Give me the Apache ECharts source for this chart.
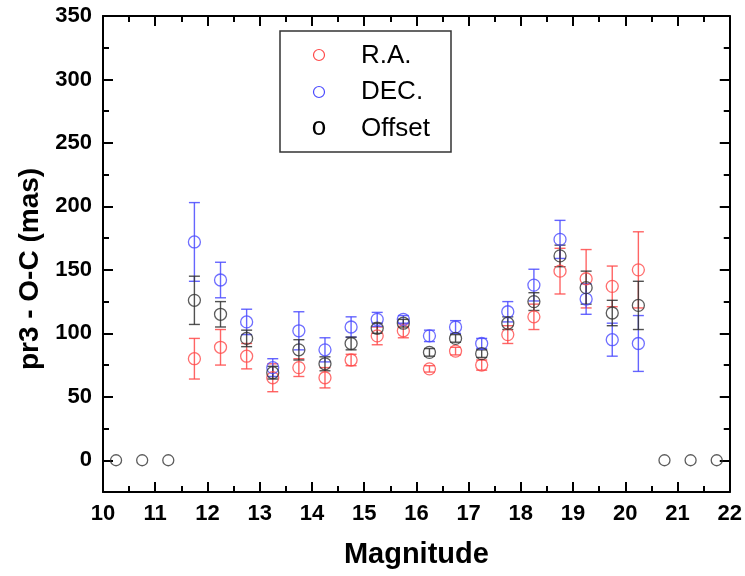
<!DOCTYPE html>
<html>
<head>
<meta charset="utf-8">
<script src="https://cdn.jsdelivr.net/npm/echarts@6/dist/echarts.min.js"></script>
<style>html,body{margin:0;padding:0;background:#fff}#c{width:745px;height:576px}</style>
</head>
<body>
<div id="c"></div>
<script>
// Data
const magnitudes = [11.75, 12.25, 12.75, 13.25, 13.75, 14.25, 14.75, 15.25, 15.75, 16.25, 16.75, 17.25, 17.75, 18.25, 18.75, 19.25, 19.75, 20.25];
const raValues   = [80, 89, 82, 65, 73, 65, 79, 98, 102, 72, 86, 75, 99, 113, 149, 143, 137, 150];
const raErrors   = [16, 14, 10, 11, 7, 8, 4.5, 7, 5.5, 2.5, 3, 4, 7, 10, 18, 23, 16, 30];
const decValues  = [172, 142, 109, 73, 102, 87, 105, 111, 111, 98, 105, 92, 117, 138, 174, 127, 95, 92];
const decErrors  = [31, 14, 10, 7, 15, 9.5, 8, 5.5, 3, 4.5, 5, 4, 8, 12.5, 15, 12, 13, 22];
const offValues  = [126, 115, 96, 69, 87, 76, 92, 104, 108, 85, 96, 84, 108, 125, 161, 136, 116, 122];
const offErrors  = [19, 10, 6.5, 5, 8, 5.5, 5, 4, 3, 3, 3, 3, 5, 7, 8.5, 13, 10, 19];
const zeroMagnitudes = [10.25, 10.75, 11.25, 20.75, 21.25, 21.75];
const zeroValues = [0, 0, 0, 0, 0, 0];
const xTicks = [10, 11, 12, 13, 14, 15, 16, 17, 18, 19, 20, 21, 22];
const yMajorTicks = [0, 50, 100, 150, 200, 250, 300, 350];

const RED = '#ff4a4a', BLUE = '#4a4aff', BLACK = '#333333';
const FONT = 'Liberation Sans, Arial, sans-serif';

function pts(xs, ys) { return xs.map((x, i) => [x, ys[i]]); }
function errData(xs, ys, es) { return xs.map((x, i) => [x, ys[i], es[i]]); }

function errSeries(name, data, color) {
  return {
    type: 'custom', name: name, data: data, z: 2,
    renderItem: function (params, api) {
      const x = api.value(0), y = api.value(1), e = api.value(2);
      const top = api.coord([x, y + e]);
      const bot = api.coord([x, y - e]);
      const cw = 5.5;
      const st = { stroke: color, lineWidth: 1.4, opacity: 0.85 };
      return {
        type: 'group',
        children: [
          { type: 'line', shape: { x1: top[0], y1: top[1], x2: bot[0], y2: bot[1] }, style: st },
          { type: 'line', shape: { x1: top[0] - cw, y1: top[1], x2: top[0] + cw, y2: top[1] }, style: st },
          { type: 'line', shape: { x1: bot[0] - cw, y1: bot[1], x2: bot[0] + cw, y2: bot[1] }, style: st }
        ]
      };
    },
    encode: { x: 0, y: 1 }
  };
}

function scatter(name, data, color, size) {
  return {
    type: 'scatter', name: name, data: data, z: 3,
    symbol: 'circle', symbolSize: size,
    itemStyle: { color: 'rgba(255,255,255,0)', borderColor: color, borderWidth: 1.3 }
  };
}

const chart = echarts.init(document.getElementById('c'), null, { renderer: 'canvas' });

const yBase = { type: 'value', min: -25, max: 350, interval: 25, splitLine: { show: false } };
const xBase = { type: 'value', min: 10, max: 22, interval: 1, splitLine: { show: false } };

chart.setOption({
  animation: false,
  backgroundColor: '#fff',
  grid: { left: 103, right: 9, top: 16, bottom: 84 },
  xAxis: [
    Object.assign({}, xBase, {
      position: 'bottom',
      name: 'Magnitude', nameLocation: 'middle', nameGap: 48,
      nameTextStyle: { fontFamily: FONT, fontWeight: 'bold', fontSize: 29, color: '#000' },
      axisLine: { onZero: false, lineStyle: { color: '#000', width: 2 } },
      axisTick: { inside: true, length: 10, lineStyle: { color: '#000', width: 2 } },
      minorTick: { show: true, splitNumber: 2, length: 6, lineStyle: { color: '#000', width: 2 } },
      axisLabel: { margin: 11, fontFamily: FONT, fontWeight: 'bold', fontSize: 22, color: '#000',
        customValues: xTicks }
    }),
    Object.assign({}, xBase, {
      position: 'top',
      axisLine: { onZero: false, lineStyle: { color: '#000', width: 2 } },
      axisTick: { inside: true, length: 10, lineStyle: { color: '#000', width: 2 } },
      minorTick: { show: true, splitNumber: 2, length: 6, lineStyle: { color: '#000', width: 2 } },
      axisLabel: { show: false }
    })
  ],
  yAxis: [
    Object.assign({}, yBase, {
      position: 'left',
      axisLine: { onZero: false, lineStyle: { color: '#000', width: 2 } },
      axisTick: { inside: true, length: 6, lineStyle: { color: '#000', width: 2 } },
      axisLabel: { margin: 11, fontFamily: FONT, fontWeight: 'bold', fontSize: 22, color: '#000',
        formatter: function (v) { return (v % 50 === 0) ? String(v) : ''; } }
    }),
    Object.assign({}, yBase, {
      position: 'left',
      axisLine: { show: false },
      axisTick: { inside: true, length: 10, customValues: yMajorTicks, lineStyle: { color: '#000', width: 2 } },
      axisLabel: { show: false }
    }),
    Object.assign({}, yBase, {
      position: 'right',
      axisLine: { onZero: false, lineStyle: { color: '#000', width: 2 } },
      axisTick: { inside: true, length: 6, lineStyle: { color: '#000', width: 2 } },
      axisLabel: { show: false }
    }),
    Object.assign({}, yBase, {
      position: 'right',
      axisLine: { show: false },
      axisTick: { inside: true, length: 10, customValues: yMajorTicks, lineStyle: { color: '#000', width: 2 } },
      axisLabel: { show: false }
    })
  ],
  series: [
    errSeries('RA err', errData(magnitudes, raValues, raErrors), RED),
    errSeries('DEC err', errData(magnitudes, decValues, decErrors), BLUE),
    errSeries('Offset err', errData(magnitudes, offValues, offErrors), BLACK),
    scatter('R.A.', pts(magnitudes, raValues), RED, 12),
    scatter('DEC.', pts(magnitudes, decValues), BLUE, 12),
    scatter('Offset', pts(magnitudes, offValues), BLACK, 12),
    scatter('Offset zero', pts(zeroMagnitudes, zeroValues), BLACK, 11)
  ],
  graphic: [
    { type: 'text', x: 30, y: 269, rotation: Math.PI / 2,
      style: { text: 'pr3 - O-C (mas)', fontFamily: FONT, fontWeight: 'bold', fontSize: 28, fill: '#000', align: 'center', verticalAlign: 'middle' } },
    { type: 'rect', shape: { x: 280, y: 31, width: 171, height: 121 },
      style: { fill: '#fff', stroke: '#333', lineWidth: 1.5 }, z: 10 },
    { type: 'circle', shape: { cx: 319, cy: 55, r: 5.5 }, style: { fill: 'none', stroke: RED, lineWidth: 1.2 }, z: 11 },
    { type: 'circle', shape: { cx: 319, cy: 92, r: 5.5 }, style: { fill: 'none', stroke: BLUE, lineWidth: 1.2 }, z: 11 },
    { type: 'text', x: 319, y: 128, style: { text: 'o', fontFamily: FONT, fontSize: 26, fill: '#000', align: 'center', verticalAlign: 'middle' }, z: 11 },
    { type: 'text', x: 361, y: 56, style: { text: 'R.A.', fontFamily: FONT, fontSize: 26, fill: '#000', align: 'left', verticalAlign: 'middle' }, z: 11 },
    { type: 'text', x: 361, y: 92, style: { text: 'DEC.', fontFamily: FONT, fontSize: 26, fill: '#000', align: 'left', verticalAlign: 'middle' }, z: 11 },
    { type: 'text', x: 361, y: 129, style: { text: 'Offset', fontFamily: FONT, fontSize: 26, fill: '#000', align: 'left', verticalAlign: 'middle' }, z: 11 }
  ]
});
</script>
</body>
</html>
